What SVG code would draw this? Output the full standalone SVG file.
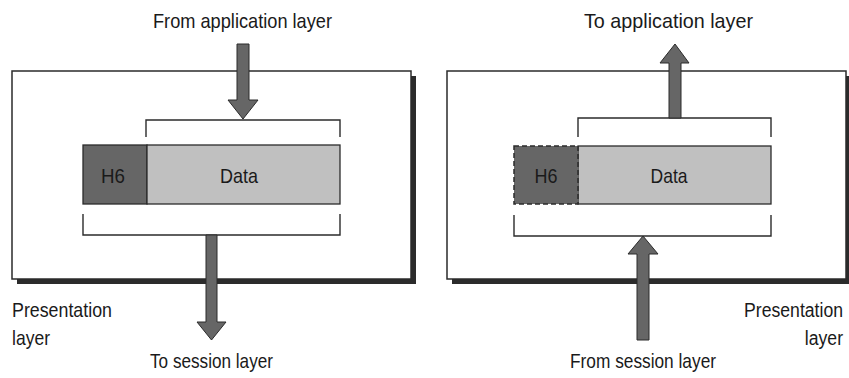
<svg xmlns="http://www.w3.org/2000/svg" width="849" height="378" viewBox="0 0 849 378">
<style>
  text { font-family: "Liberation Sans", Arial, sans-serif; font-size: 21px; fill: #1a1a1a; }
  .shadow { fill: #2b2b2b; }
  .box { fill: #ffffff; stroke: #2b2b2b; stroke-width: 1.5; }
  .hdr { fill: #666666; stroke: #2b2b2b; stroke-width: 1.3; }
  .hdrd { fill: #666666; stroke: #2b2b2b; stroke-width: 1.5; stroke-dasharray: 5 3; }
  .data { fill: #c0c0c0; stroke: #2b2b2b; stroke-width: 1.3; }
  .brk { fill: none; stroke: #2b2b2b; stroke-width: 1.4; }
  .arrow { fill: #666666; stroke: #2b2b2b; stroke-width: 1; stroke-linejoin: miter; }
</style>

<g id="left-layer">
  <rect class="shadow" x="17" y="76" width="399" height="208"/>
  <rect class="box" x="12" y="71" width="399" height="208"/>
  <text x="12" y="317" textLength="100" lengthAdjust="spacingAndGlyphs">Presentation</text>
  <text x="12" y="345" textLength="38" lengthAdjust="spacingAndGlyphs">layer</text>
</g>

<g id="left-packet">
  <path class="brk" d="M146,137 V120 H340 V137"/>
  <rect class="hdr" x="83" y="145" width="64" height="59"/>
  <rect class="data" x="147" y="145" width="193" height="59"/>
  <text x="113" y="183" text-anchor="middle" textLength="24" lengthAdjust="spacingAndGlyphs">H6</text>
  <text x="239" y="183" text-anchor="middle" textLength="38" lengthAdjust="spacingAndGlyphs">Data</text>
  <path class="brk" d="M83,214 V235 H340 V214"/>
</g>

<g id="right-layer">
  <rect class="shadow" x="452" y="76" width="397" height="208"/>
  <rect class="box" x="447" y="71" width="399" height="208"/>
  <text transform="translate(843,317) scale(0.84,1)" text-anchor="end">Presentation</text>
  <text transform="translate(843,345) scale(0.84,1)" text-anchor="end">layer</text>
</g>

<g id="right-packet">
  <path class="brk" d="M578,137 V118 H771 V137"/>
  <rect class="data" x="578" y="146" width="193" height="58"/>
  <rect class="hdrd" x="514" y="146" width="64" height="58"/>
  <text x="546" y="183" text-anchor="middle" textLength="23" lengthAdjust="spacingAndGlyphs">H6</text>
  <text x="669" y="183" text-anchor="middle" textLength="37" lengthAdjust="spacingAndGlyphs">Data</text>
  <path class="brk" d="M514,215 V236 H771 V215"/>
</g>

<g id="connectors">
  <polygon class="arrow" points="237,44 249,44 249,100 258,100 243,119 228,100 237,100"/>
  <polygon class="arrow" points="206,235 217,235 217,322 226,322 211.5,340 197,322 206,322"/>
  <polygon class="arrow" points="669,118 681,118 681,63 689,63 675,44 660,63 669,63"/>
  <polygon class="arrow" points="637,340 649,340 649,254 658,254 643,236 628,254 637,254"/>
</g>

<g id="labels">
  <text x="242.5" y="28" text-anchor="middle" textLength="179" lengthAdjust="spacingAndGlyphs">From application layer</text>
  <text x="211.5" y="368" text-anchor="middle" textLength="123" lengthAdjust="spacingAndGlyphs">To session layer</text>
  <text x="668.5" y="28" text-anchor="middle" textLength="169" lengthAdjust="spacingAndGlyphs">To application layer</text>
  <text x="643" y="368" text-anchor="middle" textLength="146" lengthAdjust="spacingAndGlyphs">From session layer</text>
</g>
</svg>
